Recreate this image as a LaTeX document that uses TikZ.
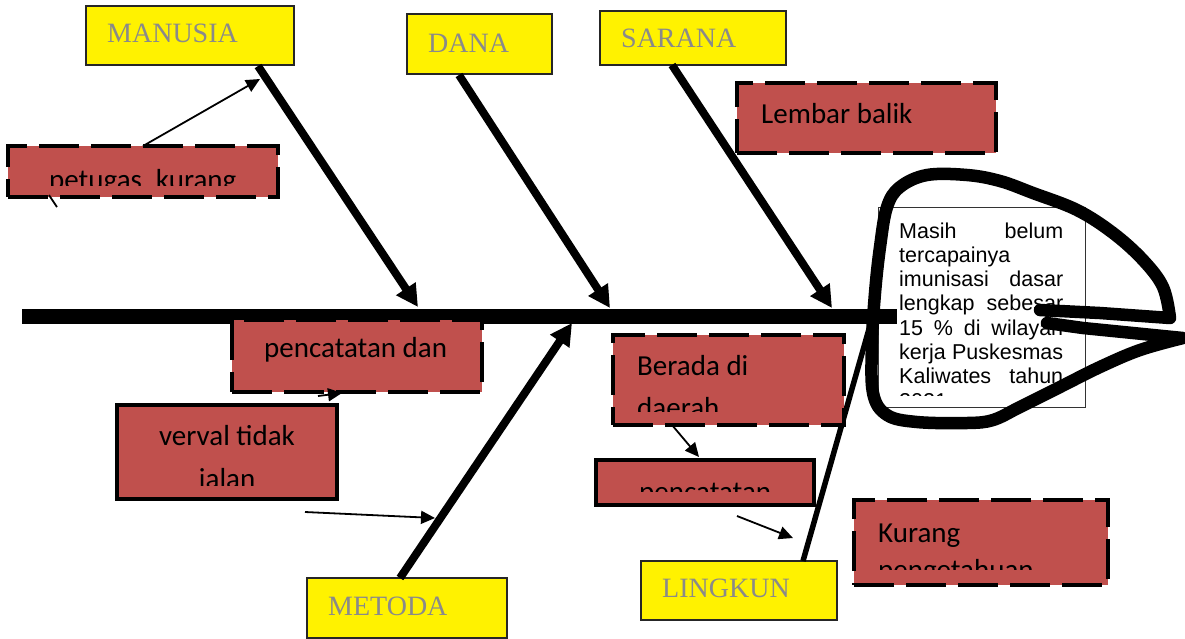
\documentclass[tikz,border=0pt]{standalone}
\usepackage{fontspec}
\setmainfont{Liberation Serif}
\newfontfamily\calfont{Carlito}
\newfontfamily\arifont{Liberation Sans}
\usetikzlibrary{arrows.meta,calc}
\definecolor{redbox}{HTML}{C0504D}
\definecolor{greytext}{HTML}{8A8A8A}
\begin{document}
\begin{tikzpicture}[x=1pt,y=-1pt,
  ybox/.style={draw=black!85, line width=1.6pt, fill=yellow, anchor=north west, inner sep=0pt, outer sep=0pt},
  ytext/.style={anchor=base west, inner sep=0pt, text=greytext, font=\fontsize{28}{32}\selectfont},
  rdash/.style={fill=redbox, draw=black, line width=4.5pt, dash pattern=on 40pt off 12pt, anchor=north west, inner sep=0pt, outer sep=0pt},
  rsolid/.style={fill=redbox, draw=black, line width=4.5pt, anchor=north west, inner sep=0pt, outer sep=0pt},
  rtext/.style={anchor=base west, inner sep=0pt, font=\calfont\fontsize{29}{42}\selectfont},
  ctext/.style={anchor=base west, inner sep=0pt, font=\arifont\fontsize{21.5}{24}\selectfont},
  spine/.style={line width=15pt},
  branch/.style={line width=8pt, -{Triangle[length=22pt,width=22pt]}},
  thin/.style={line width=1.8pt, -{Triangle[length=14pt,width=13pt]}},
  pen/.style={line width=12.5pt, line cap=round, line join=round}
]
\useasboundingbox (0,0) rectangle (1185,638);

% central effect box
\node[draw=black!80, line width=1.2pt, fill=white, anchor=north west, inner sep=0pt,
      minimum width=207pt, minimum height=200pt] (effect) at (878,207) {};
\begin{scope}
\clip (880,209) rectangle (1083,395);
\node[ctext] (e1) at (899,238) {\makebox[164pt][s]{Masih belum}};
\node[ctext] (e2) at (899,262.3) {tercapainya};
\node[ctext] (e3) at (899,286.6) {\makebox[164pt][s]{imunisasi dasar}};
\node[ctext] (e4) at (899,310.9) {\makebox[164pt][s]{lengkap sebesar}};
\node[ctext] (e5) at (899,335.2) {\makebox[164pt][s]{15 \% di wilayah}};
\node[ctext] (e6) at (899,359.5) {\makebox[164pt][s]{kerja Puskesmas}};
\node[ctext] (e7) at (899,383.8) {\makebox[164pt][s]{Kaliwates tahun}};
\node[ctext] (e8) at (899,408.1) {2021};
\end{scope}

% spine
\coordinate (spineL) at (22,316);
\coordinate (spineR) at (897,316);
\draw[spine] (spineL) -- (spineR);

% category boxes
\node[ybox, minimum width=208pt, minimum height=59pt] (manusia) at (86,6) {};
\node[ytext] (manusiaT) at (107,42) {MANUSIA};
\node[ybox, minimum width=145pt, minimum height=60pt] (dana) at (407,14) {};
\node[ytext] (danaT) at (428,52) {DANA};
\node[ybox, minimum width=186pt, minimum height=54pt] (sarana) at (600,11) {};
\node[ytext] (saranaT) at (621,47) {SARANA};
\node[ybox, minimum width=200pt, minimum height=60pt] (metoda) at (307,578) {};
\node[ytext] (metodaT) at (328,615) {METODA};
\node[ybox, minimum width=196pt, minimum height=59pt] (lingkun) at (641,561) {};
\node[ytext] (lingkunT) at (662,597) {LINGKUN};

% branches
\coordinate (mA) at (258,66);  \coordinate (mB) at (418,307);
\coordinate (dA) at (459,75);  \coordinate (dB) at (610,308);
\coordinate (sA) at (672,65);  \coordinate (sB) at (832,308);
\coordinate (tA) at (400,578); \coordinate (tB) at (572,323);
\coordinate (lA) at (803,561); \coordinate (lB) at (871,322);
\draw[branch] (mA) -- (mB);
\draw[branch] (dA) -- (dB);
\draw[branch] (sA) -- (sB);
\draw[branch] (tA) -- (tB);
\draw[line width=5.5pt] (lA) -- (lB);

% cause boxes
\node[rdash, minimum width=270pt, minimum height=51pt] (petugas) at (8,146) {};
\begin{scope}
\clip (10,148) rectangle (276,185);
\node[rtext] (petugasT) at (49,189) {petugas\hspace{14pt}kurang};
\end{scope}

\node[rdash, minimum width=259pt, minimum height=70pt] (lembar) at (737,83) {};
\node[rtext] (lembarT) at (761,123) {Lembar balik};

\node[rdash, minimum width=250pt, minimum height=72pt] (catat) at (232,320) {};
\node[rtext] (catatT) at (264,357) {pencatatan dan};

\node[rsolid, minimum width=220pt, minimum height=94pt] (verval) at (117,405) {};
\begin{scope}
\clip (120,408) rectangle (334,485);
\node[rtext, anchor=base] (vervalT1) at (227,445) {verval tidak};
\node[rtext, anchor=base] (vervalT2) at (227,488) {jalan};
\end{scope}

\node[rdash, minimum width=231pt, minimum height=90pt] (berada) at (613,335) {};
\begin{scope}
\clip (615,337) rectangle (842,411);
\node[rtext] (beradaT1) at (637,375) {Berada di};
\node[rtext] (beradaT2) at (637,417) {daerah};
\end{scope}

\node[rsolid, minimum width=218pt, minimum height=45pt] (catat2) at (596,460) {};
\begin{scope}
\clip (598,462) rectangle (812,491);
\node[rtext] (catat2T) at (639,501) {pencatatan};
\end{scope}

\node[rdash, minimum width=254pt, minimum height=85pt] (kurang) at (854,500) {};
\begin{scope}
\clip (856,502) rectangle (1106,569);
\node[rtext] (kurangT1) at (878,542) {Kurang};
\node[rtext] (kurangT2) at (878,579) {pengetahuan};
\end{scope}

% small arrows
\coordinate (a1s) at (143,146); \coordinate (a1e) at (260,79);
\draw[thin] (a1s) -- (a1e);
\coordinate (a2s) at (49,195); \coordinate (a2e) at (57,207);
\draw[line width=1.8pt] (a2s) -- (a2e);
\coordinate (a3s) at (318,396); \coordinate (a3e) at (342,393);
\draw[thin] (a3s) -- (a3e);
\coordinate (a4s) at (305,512); \coordinate (a4e) at (435,518);
\draw[thin] (a4s) -- (a4e);
\coordinate (a5s) at (672,425); \coordinate (a5e) at (699,457);
\draw[thin] (a5s) -- (a5e);
\coordinate (a6s) at (737,516); \coordinate (a6e) at (793,538);
\draw[thin] (a6s) -- (a6e);

% hand-drawn loop
\draw[pen] (1040,310) -- (1100,313) -- (1170,318)
  -- plot[smooth, tension=0.6] coordinates {(1170,318) (1163,287) (1143,260) (1113,233) (1077,210) (1033,193) (1000,181) (967,175) (927,175) (900,187) (887,207) (880,247) (875,293) (872,343) (873,393) (887,415) (917,422) (967,423) (993,420) (1020,407) (1060,387) (1100,367) (1140,350) (1183,338)}
  -- (1133,333) -- (1083,328) -- (1047,323);
\end{tikzpicture}
\end{document}
